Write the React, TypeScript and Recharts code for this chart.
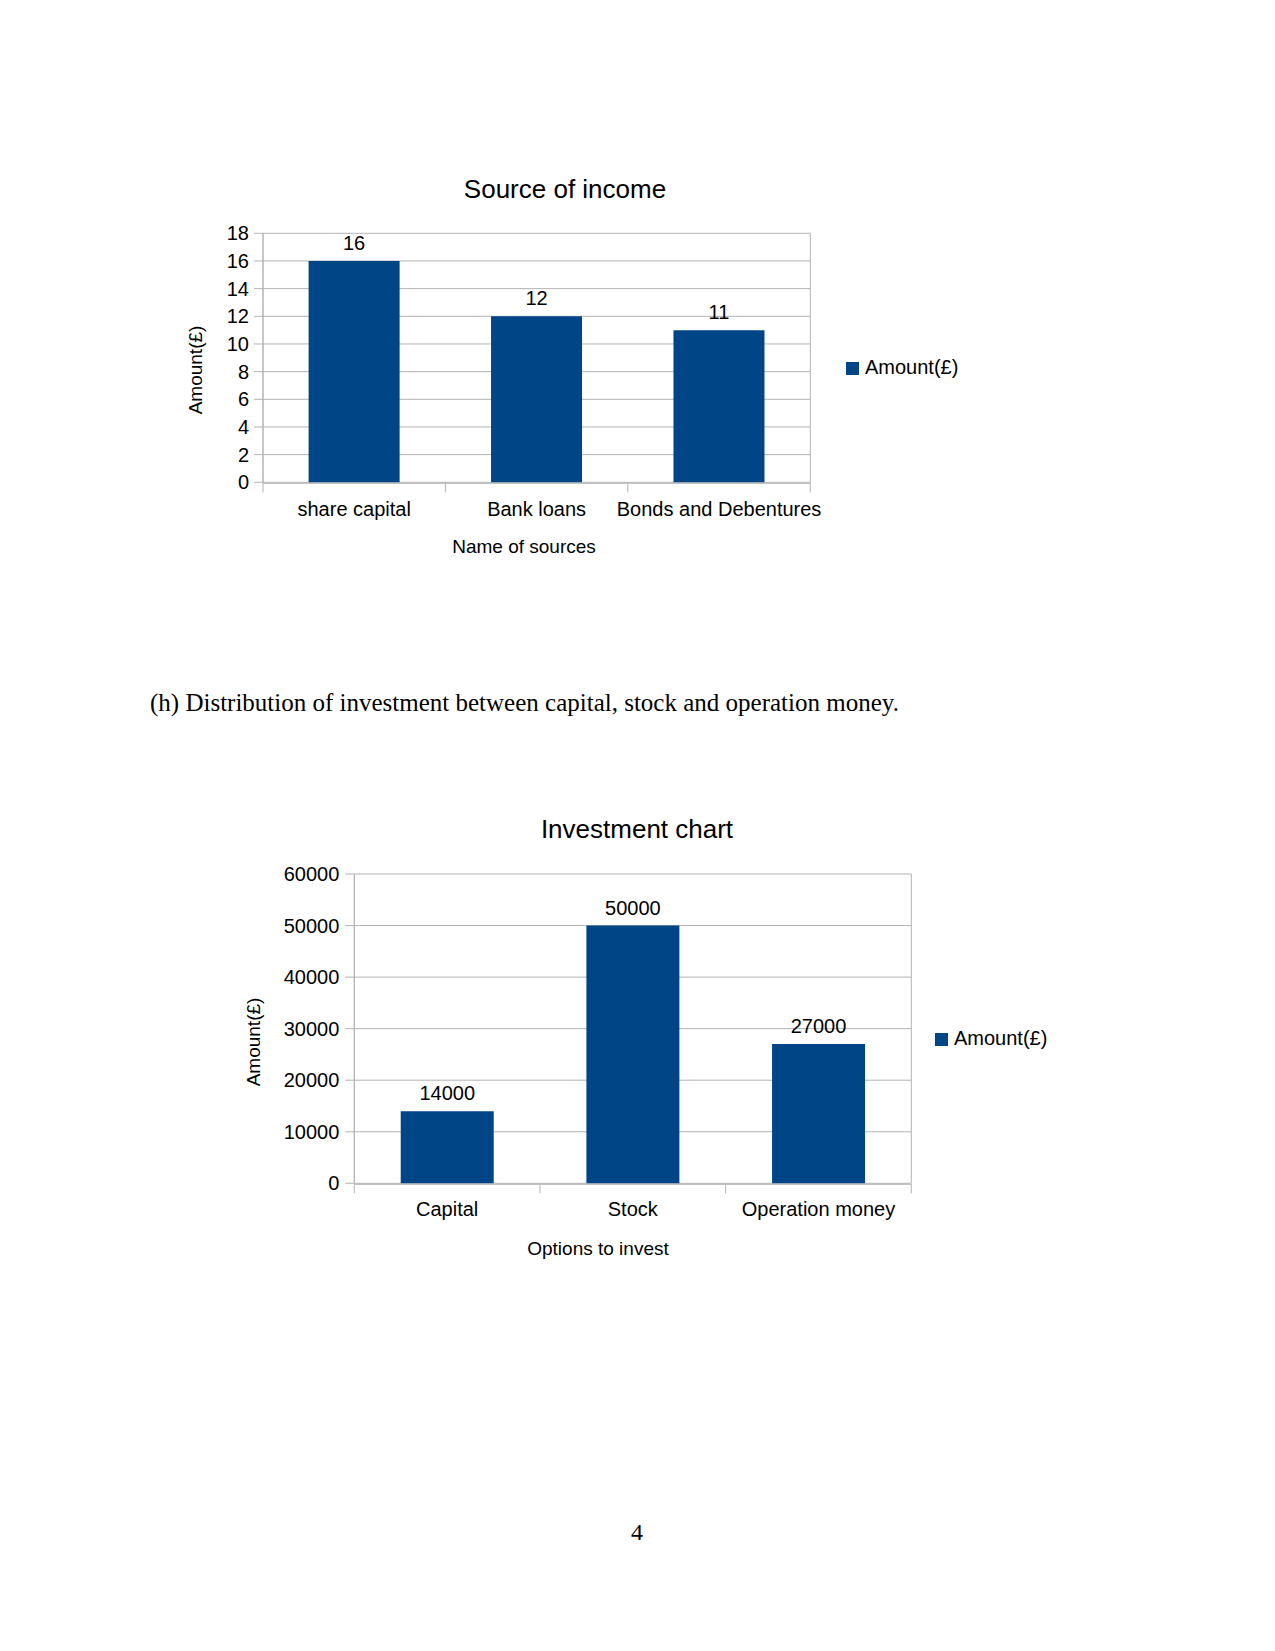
import { BarChart, Bar, XAxis, YAxis, CartesianGrid, Legend, LabelList } from 'recharts';

const incomeSources = ['share capital', 'Bank loans', 'Bonds and Debentures'];
const incomeAmounts = [16, 12, 11];
const incomeTicks = [0, 2, 4, 6, 8, 10, 12, 14, 16, 18];

const investOptions = ['Capital', 'Stock', 'Operation money'];
const investAmounts = [14000, 50000, 27000];
const investTicks = [0, 10000, 20000, 30000, 40000, 50000, 60000];

const seriesName = 'Amount(£)';

const BLUE = '#004586';
const GRID = '#b3b3b3';
const SANS = '"Liberation Sans", Arial, sans-serif';
const SERIF = '"Liberation Serif", "Times New Roman", serif';

interface ChartBoxProps {
  categories: string[];
  values: number[];
  ticks: number[];
  top: number;
  height: number;
  margin: { top: number; right: number; bottom: number; left: number };
  yAxisWidth: number;
  tickMargin: number;
  catMargin: number;
  legendPos: { left: number; top: number };
}

function AmountChart({
  categories,
  values,
  ticks,
  top,
  height,
  margin,
  yAxisWidth,
  tickMargin,
  catMargin,
  legendPos,
}: ChartBoxProps) {
  const data = categories.map((name, i) => ({ name, amount: values[i], edge: i }));
  // category boundaries, used for the small tick marks under the axis
  const edges = categories.map((_, i) => i).concat(categories.length);

  return (
    <div style={{ position: 'absolute', left: 0, top, fontFamily: SANS }}>
      <BarChart width={1275} height={height} data={data} margin={margin} barCategoryGap="25%">
        <CartesianGrid
          xAxisId="cat"
          stroke={GRID}
          vertical
          verticalCoordinatesGenerator={({ offset }: any) => [offset.left, offset.left + offset.width]}
        />
        <XAxis
          xAxisId="edges"
          type="number"
          dataKey="edge"
          domain={[0, categories.length]}
          ticks={edges}
          allowDataOverflow
          tickFormatter={() => ''}
          tickSize={9}
          height={1}
          axisLine={{ stroke: GRID }}
          tickLine={{ stroke: GRID }}
        />
        <XAxis
          xAxisId="cat"
          dataKey="name"
          height={1}
          interval={0}
          axisLine={false}
          tickLine={false}
          tickSize={9}
          tickMargin={catMargin}
          tick={{ fill: '#000', fontSize: 20 }}
        />
        <YAxis
          width={yAxisWidth}
          domain={[ticks[0], ticks[ticks.length - 1]]}
          ticks={ticks}
          interval={0}
          tickSize={9}
          tickMargin={tickMargin}
          axisLine={{ stroke: GRID }}
          tickLine={{ stroke: GRID }}
          tick={{ fill: '#000', fontSize: 20 }}
        />
        <Legend
          layout="horizontal"
          align="center"
          verticalAlign="middle"
          iconType="square"
          iconSize={13}
          wrapperStyle={{ left: legendPos.left, top: legendPos.top, width: 'auto', fontSize: 20, lineHeight: '24px' }}
          formatter={(value: string) => <span style={{ color: '#000', marginLeft: 2 }}>{value}</span>}
        />
        <Bar xAxisId="cat" dataKey="amount" name={seriesName} fill={BLUE} isAnimationActive={false}>
          <LabelList dataKey="amount" position="top" offset={11} fill="#000" fontSize={20} />
        </Bar>
      </BarChart>
    </div>
  );
}

function Caption({ x, y, size, text, rotate = false, font = SANS }: {
  x: number;
  y: number;
  size: number;
  text: string;
  rotate?: boolean;
  font?: string;
}) {
  return (
    <div
      style={{
        position: 'absolute',
        left: x,
        top: y,
        transform: `translate(-50%, -50%)${rotate ? ' rotate(-90deg)' : ''}`,
        fontFamily: font,
        fontSize: size,
        lineHeight: 1,
        whiteSpace: 'nowrap',
        color: '#000',
      }}
    >
      {text}
    </div>
  );
}

export default function App() {
  return (
    <div style={{ position: 'absolute', left: 0, top: 0, width: 1275, height: 1651, background: '#fff' }}>
      <Caption x={565} y={189} size={26} text="Source of income" />
      <AmountChart
        categories={incomeSources}
        values={incomeAmounts}
        ticks={incomeTicks}
        top={150}
        height={420}
        margin={{ top: 83.3, right: 464.7, bottom: 85.7, left: 127 }}
        yAxisWidth={136}
        tickMargin={5}
        catMargin={10}
        legendPos={{ left: 846, top: 205 }}
      />
      <Caption x={195} y={370} size={19} text="Amount(£)" rotate />
      <Caption x={524} y={546} size={19} text="Name of sources" />

      <div
        style={{
          position: 'absolute',
          left: 150,
          top: 690,
          fontFamily: SERIF,
          fontSize: 25,
          lineHeight: 1,
          whiteSpace: 'nowrap',
          color: '#000',
        }}
      >
        (h) Distribution of investment between capital, stock and operation money.
      </div>

      <Caption x={637} y={829} size={26} text="Investment chart" />
      <AmountChart
        categories={investOptions}
        values={investAmounts}
        ticks={investTicks}
        top={780}
        height={480}
        margin={{ top: 94, right: 363.7, bottom: 74.7, left: 151.7 }}
        yAxisWidth={202.6}
        tickMargin={6}
        catMargin={9}
        legendPos={{ left: 935, top: 246 }}
      />
      <Caption x={253} y={1042} size={19} text="Amount(£)" rotate />
      <Caption x={598} y={1248} size={19} text="Options to invest" />

      <Caption x={637} y={1532} size={24} text="4" font={SERIF} />
    </div>
  );
}
